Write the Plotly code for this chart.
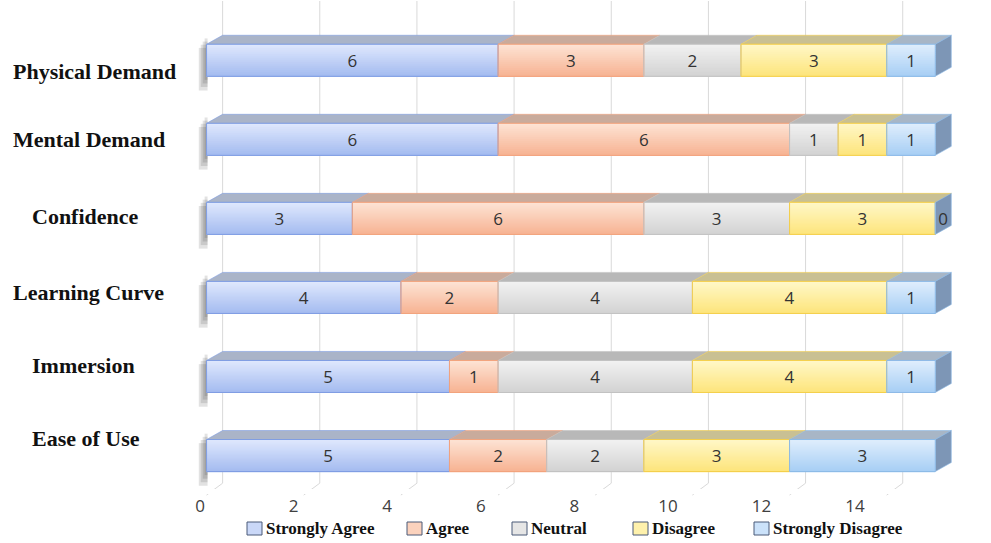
import plotly.graph_objects as go

# ---------------- data ----------------
CATEGORIES = ["Physical Demand", "Mental Demand", "Confidence",
              "Learning Curve", "Immersion", "Ease of Use"]
SERIES = ["Strongly Agree", "Agree", "Neutral", "Disagree", "Strongly Disagree"]
STRONGLY_AGREE = [6, 6, 3, 4, 5, 5]
AGREE = [3, 6, 6, 2, 1, 2]
NEUTRAL = [2, 1, 3, 4, 4, 2]
DISAGREE = [3, 1, 3, 4, 4, 3]
STRONGLY_DISAGREE = [1, 1, 0, 1, 1, 3]
X_TICKS = [0, 2, 4, 6, 8, 10, 12, 14]

VALUES = [STRONGLY_AGREE, AGREE, NEUTRAL, DISAGREE, STRONGLY_DISAGREE]

# ---------------- style ----------------
STYLE = [
    dict(top="#dee7fd", bottom="#a5bcf0", line="#7f9de3", face="#aab4c8"),
    dict(top="#fde2d3", bottom="#f7b494", line="#f2a37d", face="#c9ab9c"),
    dict(top="#f1f1f1", bottom="#d3d3d3", line="#c2c2c2", face="#b8b8b8"),
    dict(top="#fff7c6", bottom="#fde57d", line="#f4cf4c", face="#c9c093"),
    dict(top="#deedfc", bottom="#a8cff5", line="#8dbae7", face="#a8b6c6"),
]
END_FACE = "#7d96b6"
LABEL_SHIFT = [11, 0, -2, -5, -11, -17]   # px the category labels sit below the bar centre
LABEL_CENTER_PX = [94, 89, 85, 88, 84, 86]  # horizontal centre of each category label
LEGEND_LEFT_PX = [247, 407, 512, 633, 754]  # left edge of each legend swatch
BAR_W = 0.405      # bar thickness (category units)
DX = 0.33          # 3D depth, x units
DY = 0.114         # 3D depth, category units
N_BANDS = 16
NUM_FONT = "Open Sans, Calibri, sans-serif"
SERIF = "Liberation Serif"

# plot-area geometry (px) used to place the paper-referenced legend/labels
ML, MR, MT, MB = 192, 12, 1, 44
W_PX, H_PX = 991, 543
PW = W_PX - ML - MR
PH = H_PX - MT - MB


def px_x(px):
    return (px - ML) / PW


def px_y(py):
    return (H_PX - MB - py) / PH


def mix(c1, c2, t):
    a = [int(c1[i:i + 2], 16) for i in (1, 3, 5)]
    b = [int(c2[i:i + 2], 16) for i in (1, 3, 5)]
    return "#" + "".join(f"{round(a[j] + (b[j] - a[j]) * t):02x}" for j in range(3))


ypos = list(range(len(CATEGORIES)))
bases = []
run = [0] * len(CATEGORIES)
for vals in VALUES:
    bases.append(list(run))
    run = [r + v for r, v in zip(run, vals)]
totals = run

fig = go.Figure()

# gradient bands of the front faces
for vals, base, st in zip(VALUES, bases, STYLE):
    for k in range(N_BANDS):
        col = mix(st["top"], st["bottom"], k / (N_BANDS - 1))
        fig.add_trace(go.Bar(
            orientation="h", y=ypos, x=vals, base=base,
            width=BAR_W / N_BANDS * 1.3, offset=-BAR_W / 2 + k * BAR_W / N_BANDS,
            marker=dict(color=col, line=dict(width=0)),
            showlegend=False, hoverinfo="skip"))

# outlines + value labels
for name, vals, base, st in zip(SERIES, VALUES, bases, STYLE):
    fig.add_trace(go.Bar(
        orientation="h", y=ypos, x=vals, base=base, width=BAR_W, offset=-BAR_W / 2,
        marker=dict(color="rgba(0,0,0,0)", line=dict(color=st["line"], width=1)),
        text=[str(v) for v in vals],
        textposition=["inside" if v > 0 else "outside" for v in vals],
        insidetextanchor="middle", constraintext="none",
        textfont=dict(family=NUM_FONT, size=17, color="#333333"),
        cliponaxis=False, showlegend=False, name=name,
        hovertemplate=name + ": %{x}<extra></extra>"))

# tick-label axis (front edge of the 3D floor)
fig.add_trace(go.Scatter(x=[0], y=[0], xaxis="x3", yaxis="y3", mode="markers",
                         marker=dict(opacity=0), showlegend=False, hoverinfo="skip"))

shapes = []
# gridlines on the back wall + floor
for v in X_TICKS:
    shapes.append(dict(type="line", xref="x", yref="y", x0=v + DX, x1=v + DX,
                       y0=-0.75, y1=5.35, line=dict(color="#d9d9d9", width=1),
                       layer="between"))
    shapes.append(dict(type="line", xref="x", yref="y", x0=v + DX, x1=v,
                       y0=5.35, y1=5.5, line=dict(color="#d9d9d9", width=1),
                       layer="between"))

for i in ypos:
    yt = i - BAR_W / 2
    yb = i + BAR_W / 2
    # soft shadow on the left
    for j in range(1, 5):
        shapes.append(dict(type="rect", xref="x", yref="y",
                           x0=-0.04 * j, x1=0.02, y0=yt - DY + 0.04 * j, y1=yb + 0.045 * j,
                           fillcolor="rgba(50,50,50,0.14)", line=dict(width=0),
                           layer="between"))
    # top faces
    for vals, base, st in zip(VALUES, bases, STYLE):
        v = vals[i]
        if v <= 0:
            continue
        x0 = base[i]
        x1 = base[i] + v
        shapes.append(dict(type="path", xref="x", yref="y",
                           path=f"M {x0},{yt} L {x1},{yt} L {x1 + DX},{yt - DY} L {x0 + DX},{yt - DY} Z",
                           fillcolor=st["face"], line=dict(color=st["line"], width=0.6),
                           layer="between"))
    # right end face
    xe = totals[i]
    shapes.append(dict(type="path", xref="x", yref="y",
                       path=f"M {xe},{yt} L {xe + DX},{yt - DY} L {xe + DX},{yb - DY} L {xe},{yb} Z",
                       fillcolor=END_FACE, line=dict(color="#8dbae7", width=0.6),
                       layer="between"))

annotations = []
for i, (cat, sh, cx) in enumerate(zip(CATEGORIES, LABEL_SHIFT, LABEL_CENTER_PX)):
    annotations.append(dict(text=cat, xref="paper", yref="y", x=px_x(cx), y=i,
                            xanchor="center", yanchor="middle", yshift=-sh,
                            showarrow=False,
                            font=dict(family=SERIF, size=22, color="#111111", weight="bold")))

# legend (swatch + label)
for name, st, left in zip(SERIES, STYLE, LEGEND_LEFT_PX):
    shapes.append(dict(type="rect", xref="paper", yref="paper",
                       x0=px_x(left), x1=px_x(left + 15), y0=px_y(535), y1=px_y(522),
                       fillcolor=mix(st["top"], st["bottom"], 0.35),
                       line=dict(color="#4a5a78", width=1), layer="above"))
    annotations.append(dict(text=name, xref="paper", yref="paper",
                            x=px_x(left + 17), y=px_y(528.5), xanchor="left", yanchor="middle",
                            showarrow=False,
                            font=dict(family=SERIF, size=17, color="#111111", weight="bold")))

fig.update_layout(
    width=W_PX, height=H_PX,
    margin=dict(l=ML, r=MR, t=MT, b=MB),
    paper_bgcolor="white", plot_bgcolor="white",
    barmode="overlay",
    showlegend=False,
    xaxis=dict(range=[-0.3, 15.9], showgrid=False, zeroline=False,
               showticklabels=False, showline=False, fixedrange=True),
    yaxis=dict(range=[5.55, -0.75], showgrid=False, zeroline=False,
               showticklabels=False, showline=False, fixedrange=True),
    xaxis3=dict(domain=[px_x(200), px_x(200 + 15 * 46.79)], range=[0, 15], anchor="y3",
                tickmode="array", tickvals=X_TICKS, ticktext=[str(t) for t in X_TICKS],
                showgrid=False, zeroline=False, showline=False, ticks="",
                tickfont=dict(family=NUM_FONT, size=17, color="#404040")),
    yaxis3=dict(domain=[px_y(494), px_y(494) + 0.01], anchor="x3", visible=False, range=[-1, 1]),
    shapes=shapes,
    annotations=annotations,
)

fig.write_html("out.html")
